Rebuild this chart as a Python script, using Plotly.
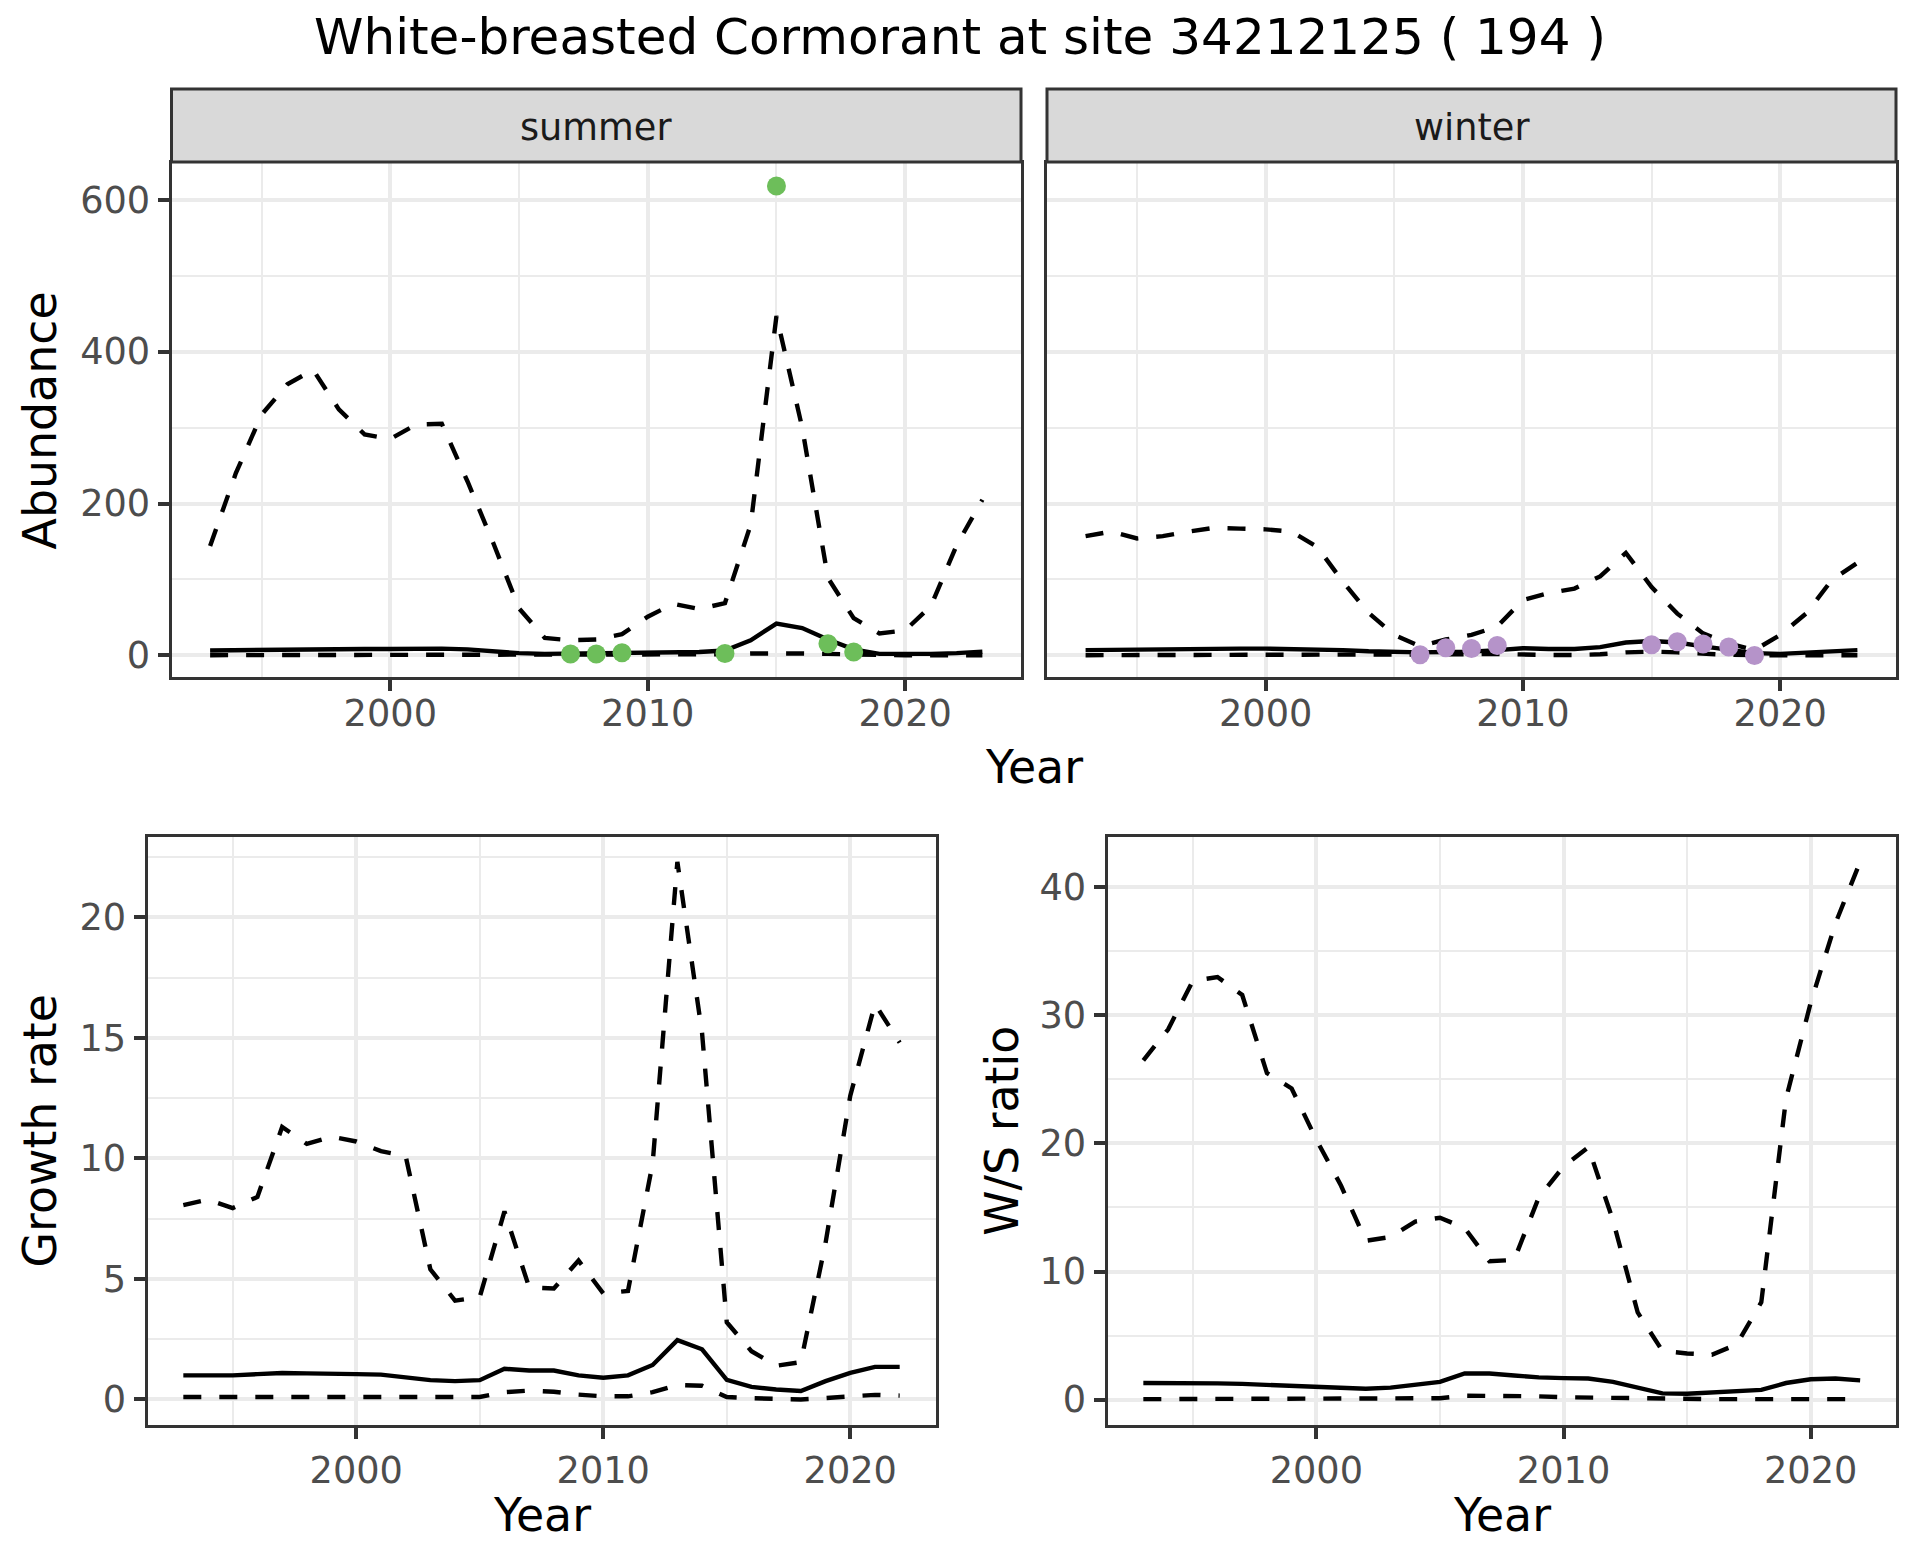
import plotly.graph_objects as go

# ---------------- data ----------------
years_ab = list(range(1993, 2024))
summer_upper = [144, 240, 317, 357, 376, 324, 291, 285, 304, 305, 229, 148, 62, 23, 20, 21,
                28, 51, 68, 61, 69, 172, 447, 300, 102, 49, 29, 33, 65, 145, 205]
summer_mean = [6.5, 7, 7, 7.5, 7.5, 8, 8.5, 8.5, 9, 9, 8, 5.5, 3, 2, 2.5, 3,
               3.5, 4, 4, 4.5, 6.5, 20, 42, 36, 21, 8, 2, 1.5, 2, 3, 5]
summer_lower = [0.3, 0.3, 0.3, 0.3, 0.3, 0.3, 0.3, 0.3, 0.3, 0.3, 0.3, 0.3, 0.2, 0.2, 0.3, 0.4,
                0.5, 0.6, 0.7, 0.8, 1.5, 2.5, 3, 2.5, 2, 1, 0.3, 0.2, 0.2, 0.2, 0.3]
summer_obs_years = [2007, 2008, 2009, 2013, 2015, 2017, 2018]
summer_obs = [2, 1.8, 3.5, 2.6, 618, 15.4, 4.4]

winter_upper = [157, 163, 154, 157, 163, 168, 167, 166, 163, 143, 97, 56, 27, 12, 21, 27,
                38, 73, 82, 88, 104, 135, 90, 55, 29, 16, 7, 27, 55, 99, 122]
winter_mean = [7, 7.5, 8, 8, 8.5, 8.5, 9, 9, 8.5, 8, 7, 5.5, 4.5, 4, 4.5, 5,
               7, 9.5, 8.5, 8.5, 11, 17, 19, 17, 12, 7, 3, 2, 3.5, 5, 7]
winter_lower = [0.3, 0.3, 0.3, 0.3, 0.3, 0.3, 0.3, 0.3, 0.3, 0.3, 0.3, 0.3, 0.3, 0.5, 1, 1.5,
                2, 1, 0.5, 0.5, 1.5, 4, 5, 4, 2, 0.8, 0.3, 0.2, 0.2, 0.3, 0.3]
winter_obs_years = [2006, 2007, 2008, 2009, 2015, 2016, 2017, 2018, 2019]
winter_obs = [1, 10, 9, 13, 14, 18, 15, 11, 0]

years_gr = list(range(1993, 2023))
growth_upper = [8.06, 8.29, 7.94, 8.4, 11.3, 10.6, 10.9, 10.7, 10.3, 10.1, 5.4, 4.1, 4.25, 7.8, 4.65,
                4.6, 5.76, 4.4, 4.5, 9.8, 22.3, 15.2, 3.2, 2.0, 1.4, 1.55, 6.5, 12.6, 16.4, 14.8]
growth_mean = [1.0, 1.0, 1.0, 1.05, 1.1, 1.08, 1.08, 1.05, 1.03, 0.92, 0.8, 0.76, 0.8, 1.27, 1.2,
               1.2, 1.0, 0.9, 1.0, 1.43, 2.46, 2.08, 0.81, 0.52, 0.41, 0.35, 0.76, 1.1, 1.35, 1.35]
growth_lower = [0.1, 0.1, 0.1, 0.1, 0.1, 0.1, 0.1, 0.1, 0.1, 0.1, 0.1, 0.1, 0.1, 0.3, 0.37,
                0.32, 0.2, 0.13, 0.13, 0.3, 0.6, 0.57, 0.1, 0.05, 0.02, 0.0, 0.06, 0.13, 0.19, 0.16]

ws_upper = [26.5, 28.9, 32.7, 33.0, 31.6, 25.5, 24.3, 20.3, 16.7, 12.4, 12.7, 13.9, 14.2, 13.4, 10.8,
            10.9, 15.8, 18.2, 19.7, 14.0, 6.8, 3.8, 3.6, 3.5, 4.3, 7.6, 23.5, 31.0, 37.2, 42.0]
ws_mean = [1.29, 1.3, 1.29, 1.26, 1.22, 1.14, 1.1, 1.0, 0.9, 0.84, 0.93, 1.14, 1.38, 2.03, 2.03,
           1.88, 1.73, 1.67, 1.64, 1.38, 0.9, 0.48, 0.45, 0.54, 0.66, 0.75, 1.29, 1.58, 1.64, 1.5]
ws_lower = [0.03, 0.03, 0.03, 0.03, 0.03, 0.03, 0.03, 0.03, 0.03, 0.03, 0.03, 0.03, 0.1, 0.3, 0.3,
            0.3, 0.25, 0.18, 0.15, 0.12, 0.06, 0.03, 0.03, 0.03, 0.03, 0.03, 0.03, 0.03, 0.03, 0.03]

x_ticks = [2000, 2010, 2020]
x_minor = [1995, 2005, 2015]
ab_ticks = [0, 200, 400, 600]
ab_minor = [100, 300, 500]
gr_ticks = [0, 5, 10, 15, 20]
gr_minor = [2.5, 7.5, 12.5, 17.5, 22.5]
ws_ticks = [0, 10, 20, 30, 40]
ws_minor = [5, 15, 25, 35]

TITLE = "White-breasted Cormorant at site 34212125 ( 194 )"
GREEN = "#6DBE5A"
PURPLE = "#B593C9"

# ---------------- styling ----------------
FONT = "DejaVu Sans"
LW = 4.4
DASH = "18px,18px"
W, H = 1920, 1560

fig = go.Figure()


def add_series(xa, ya, years, upper, mean, lower):
    for vals, dash in ((upper, DASH), (lower, DASH), (mean, "solid")):
        fig.add_trace(go.Scatter(x=years, y=vals, mode="lines", xaxis=xa, yaxis=ya,
                                 line=dict(color="black", width=LW, dash=dash),
                                 showlegend=False, hoverinfo="skip"))


def add_points(xa, ya, years, vals, color):
    fig.add_trace(go.Scatter(x=years, y=vals, mode="markers", xaxis=xa, yaxis=ya,
                             marker=dict(color=color, size=19, line=dict(width=0)),
                             showlegend=False, hoverinfo="skip"))


add_series("x", "y", years_ab, summer_upper, summer_mean, summer_lower)
add_series("x2", "y2", years_ab, winter_upper, winter_mean, winter_lower)
add_series("x3", "y3", years_gr, growth_upper, growth_mean, growth_lower)
add_series("x4", "y4", years_gr, ws_upper, ws_mean, ws_lower)
add_points("x", "y", summer_obs_years, summer_obs, GREEN)
add_points("x2", "y2", winter_obs_years, winter_obs, PURPLE)


def ax(domain, rng, ticks, minor, anchor, labels=True, tickson=True, standoff=None):
    d = dict(domain=domain, range=rng, anchor=anchor,
             tickmode="array", tickvals=ticks,
             showgrid=True, gridcolor="#EBEBEB", gridwidth=4.4,
             zeroline=False, showline=True, linecolor="#333333", linewidth=3, mirror=True,
             ticks="outside" if tickson else "", ticklen=11, tickwidth=3.5, tickcolor="#333333",
             showticklabels=labels,
             tickfont=dict(family=FONT, size=36.7, color="#4D4D4D"),
             minor=dict(tickmode="array", tickvals=minor, showgrid=True,
                        gridcolor="#EBEBEB", gridwidth=2.2, ticks=""))
    if standoff is not None:
        d["ticklabelstandoff"] = standoff
    return d


def px_x(p):
    return p / W


def px_y(p):
    return 1 - p / H


xr_ab = [1991.5, 2024.5]
xr_gr = [1991.55, 2023.45]
top_dom = [px_y(677), px_y(163)]
bot_dom = [px_y(1425), px_y(837)]
sum_dom = [px_x(171.5), px_x(1021)]
win_dom = [px_x(1047), px_x(1896)]
gr_dom = [px_x(147.5), px_x(935.5)]
ws_dom = [px_x(1107.5), px_x(1896)]

fig.update_layout(
    width=W, height=H, margin=dict(l=0, r=0, t=0, b=0),
    paper_bgcolor="white", plot_bgcolor="white",
    font=dict(family=FONT, color="black"),
    xaxis=ax(sum_dom, xr_ab, x_ticks, x_minor, "y", standoff=-9),
    yaxis=ax(top_dom, [-28.4, 648.3], ab_ticks, ab_minor, "x"),
    xaxis2=ax(win_dom, xr_ab, x_ticks, x_minor, "y2", standoff=-9),
    yaxis2=ax(top_dom, [-28.4, 648.3], ab_ticks, ab_minor, "x2", labels=False, tickson=False),
    xaxis3=ax(gr_dom, xr_gr, x_ticks, x_minor, "y3"),
    yaxis3=ax(bot_dom, [-1.06, 23.33], gr_ticks, gr_minor, "x3"),
    xaxis4=ax(ws_dom, xr_gr, x_ticks, x_minor, "y4"),
    yaxis4=ax(bot_dom, [-1.99, 43.94], ws_ticks, ws_minor, "x4"),
)

strip_y = [px_y(162), px_y(89)]
shapes = []
for dom in (sum_dom, win_dom):
    shapes.append(dict(type="rect", xref="paper", yref="paper",
                       x0=dom[0], x1=dom[1], y0=strip_y[0], y1=strip_y[1],
                       fillcolor="#D9D9D9", line=dict(color="#333333", width=3)))
fig.update_layout(shapes=shapes)

ann = []


def label(text, x, y, size, color="black", angle=0):
    ann.append(dict(text=text, x=x, y=y, xref="paper", yref="paper", showarrow=False,
                    xanchor="center", yanchor="middle", textangle=angle,
                    font=dict(family=FONT, size=size, color=color)))


label(TITLE, 0.5, px_y(36.5), 50)
label("summer", (sum_dom[0] + sum_dom[1]) / 2, px_y(127.5), 36.7, "#1A1A1A")
label("winter", (win_dom[0] + win_dom[1]) / 2, px_y(127.5), 36.7, "#1A1A1A")
label("Year", px_x(1033.6), px_y(766.6), 45.8)
label("Abundance", px_x(40.4), px_y(420), 45.8, angle=-90)
label("Growth rate", px_x(40.4), px_y(1131), 45.8, angle=-90)
label("W/S ratio", px_x(1001.7), px_y(1131), 45.8, angle=-90)
label("Year", (gr_dom[0] + gr_dom[1]) / 2, px_y(1514.7), 45.8)
label("Year", (ws_dom[0] + ws_dom[1]) / 2, px_y(1514.7), 45.8)
fig.update_layout(annotations=ann)

fig.write_html("out.html", post_script="document.body.style.margin='0';",
               config={"displayModeBar": False})
